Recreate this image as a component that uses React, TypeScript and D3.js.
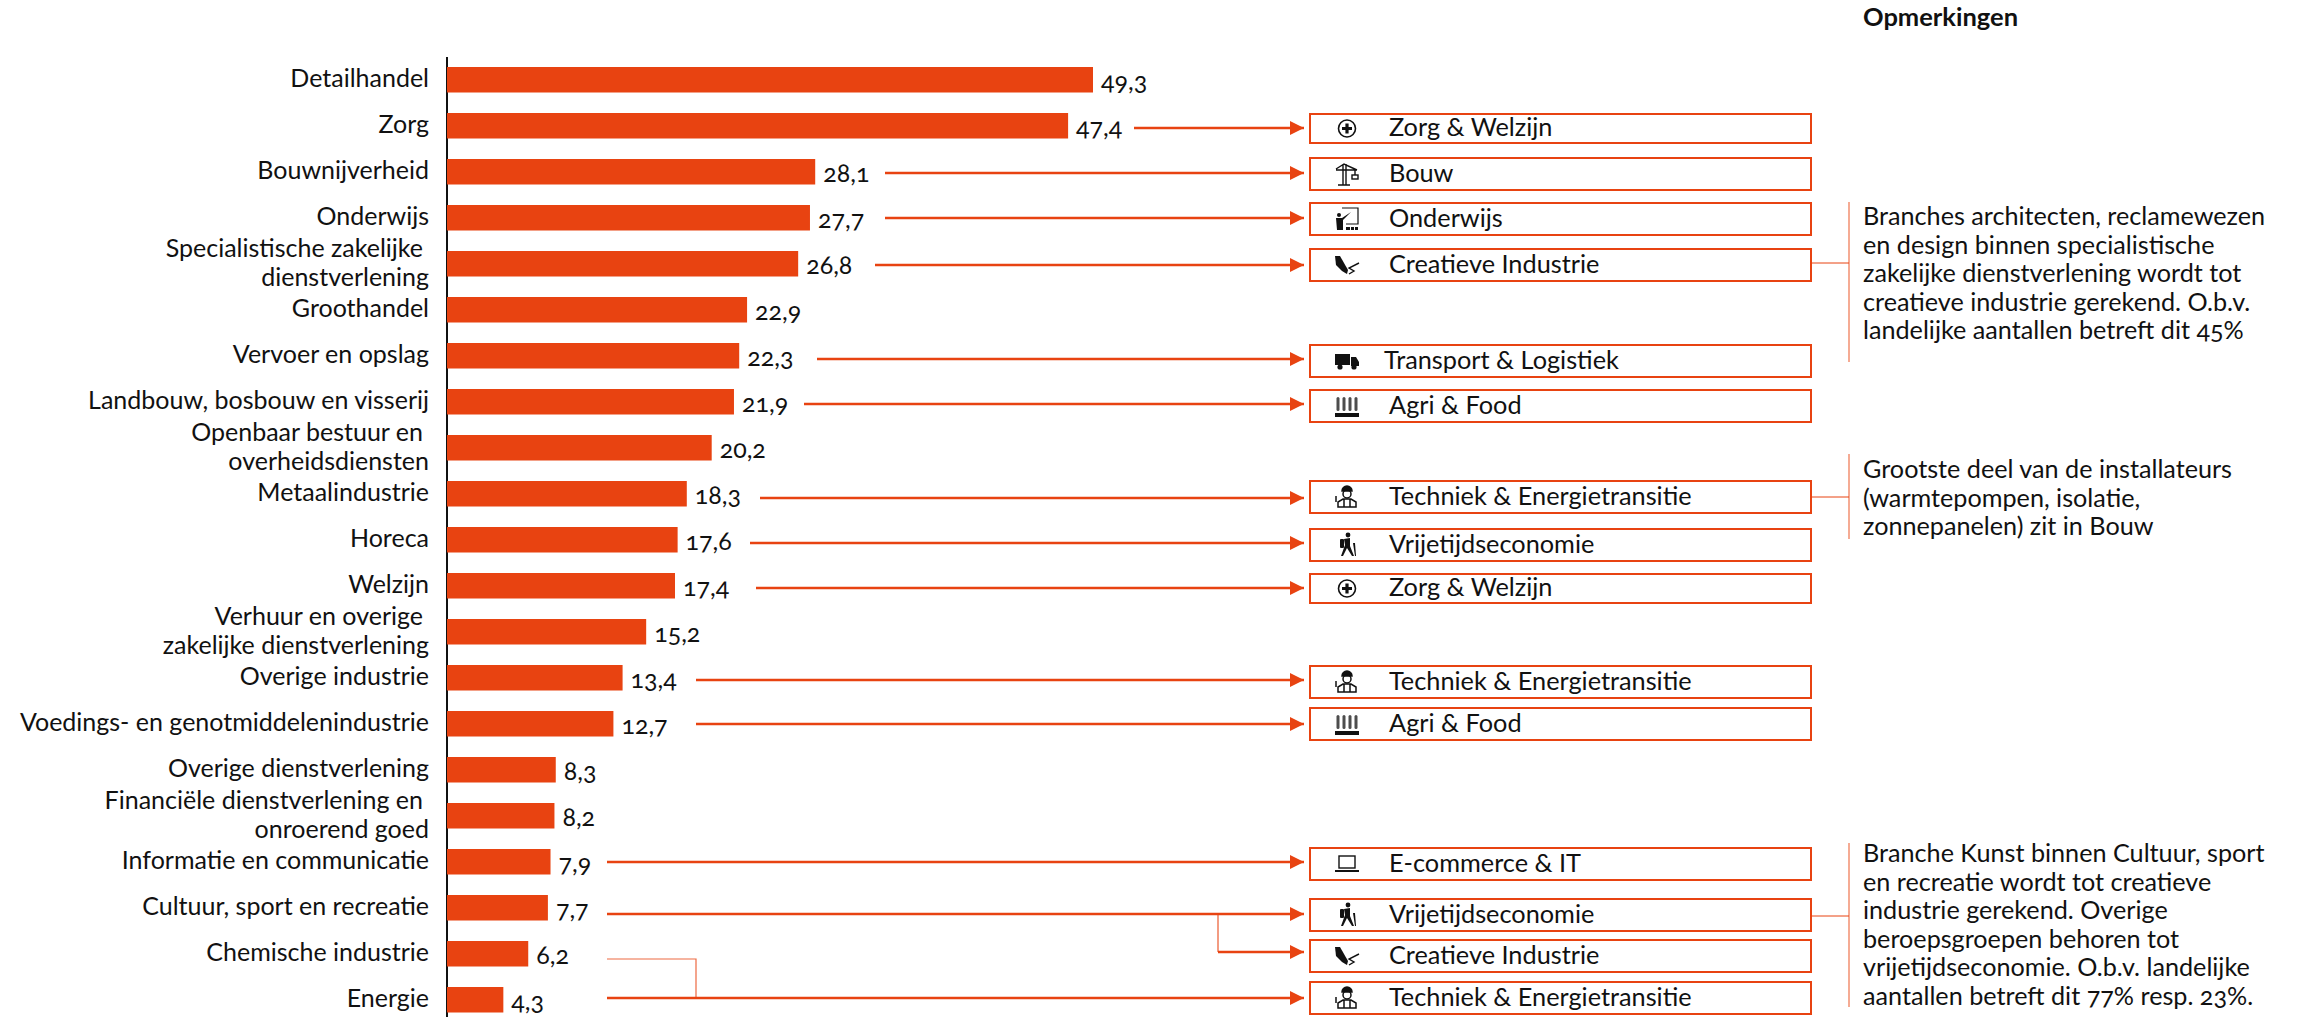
import React from "react";
import * as d3 from "d3";

const categories = ["Detailhandel","Zorg","Bouwnijverheid","Onderwijs","Specialistische zakelijke |dienstverlening","Groothandel","Vervoer en opslag","Landbouw, bosbouw en visserij","Openbaar bestuur en |overheidsdiensten","Metaalindustrie","Horeca","Welzijn","Verhuur en overige |zakelijke dienstverlening","Overige industrie","Voedings- en genotmiddelenindustrie","Overige dienstverlening","Financiële dienstverlening en |onroerend goed","Informatie en communicatie","Cultuur, sport en recreatie","Chemische industrie","Energie"];
const values = [49.3,47.4,28.1,27.7,26.8,22.9,22.3,21.9,20.2,18.3,17.6,17.4,15.2,13.4,12.7,8.3,8.2,7.9,7.7,6.2,4.3];
const boxLabels = ["Zorg & Welzijn","Bouw","Onderwijs","Creatieve Industrie","Transport & Logistiek","Agri & Food","Techniek & Energietransitie","Vrijetijdseconomie","Zorg & Welzijn","Techniek & Energietransitie","Agri & Food","E-commerce & IT","Vrijetijdseconomie","Creatieve Industrie","Techniek & Energietransitie"];
const boxTops = [114,158,203,249,345,390,481,529,574,666,708,848,899,940,982];
const boxHeights = [29,32,32,32,32,32,32,32,29,32,32,32,32,32,32];
const boxIcons = ["cross","crane","teach","pen","truck","wheat","worker","hiker","cross","worker","wheat","laptop","hiker","pen","worker"];
const arrowStarts = [1134,885,885,875,817,804,760,750,756,696,696,607,607,1218,607];
const arrowYs = [128,173,218,265,359,404,498,543,588,680,724,862,914,952,998];
const notes = [
  ["Branches architecten, reclamewezen","en design binnen specialistische","zakelijke dienstverlening wordt tot","creatieve industrie gerekend. O.b.v.","landelijke aantallen betreft dit 45%"],
  ["Grootste deel van de installateurs","(warmtepompen, isolatie,","zonnepanelen) zit in Bouw"],
  ["Branche Kunst binnen Cultuur, sport","en recreatie wordt tot creatieve","industrie gerekend. Overige","beroepsgroepen behoren tot","vrijetijdseconomie. O.b.v. landelijke","aantallen betreft dit 77% resp. 23%."],
];
const noteBaselines = [225,478,862];
const noteBars = [[202,362,263],[454,539,497],[843,1007,916]];

const ORANGE = "#e84311";
const FONT = "Lato, 'Open Sans', sans-serif";
const x = d3.scaleLinear().domain([0, 49.3]).range([447, 1093]);
const y = d3.scaleBand().domain(categories).range([67, 67 + 46 * 20 + 25.5]).paddingInner(1 - 25.5 / 46).paddingOuter(0).align(0);

function Icon({ kind, cx, cy }: { kind: string; cx: number; cy: number }) {
  const k = "#111";
  let g: React.ReactNode = null;
  if (kind === "cross") g = <g><circle r={8.5} fill="none" stroke={k} strokeWidth={1.6} /><path d="M-5 0H5M0-5V5" stroke={k} strokeWidth={3.2} /></g>;
  if (kind === "crane") g = <g fill="none" stroke={k} strokeWidth={1.4}><path d="M-9 11H3M-4 11V-10M-1 11V-10M-11-5L-3-10 10-4M-11-4H10" /><rect x={5} y={1} width={6} height={4} /><path d="M8 -4V1" /></g>;
  if (kind === "teach") g = <g><path d="M-5-11H11V5H-1" fill="none" stroke={k} strokeWidth={1.2} /><circle cx={-8} cy={-4} r={2} fill={k} /><path d="M-11-1H-5L4-7-4 1V11H-10Z" fill={k} /><path d="M-1 11V8H3V11ZM4 11V8H7V11ZM8 11V8H11V11Z" fill={k} /></g>;
  if (kind === "pen") g = <g><path d="M-12-9L-7-9 1 5 0 9-5 6-11 0Z" fill={k} /><path d="M2 9L7 6 2 3 12-2" fill="none" stroke={k} strokeWidth={1.4} /></g>;
  if (kind === "truck") g = <g fill={k}><rect x={-12} y={-7} width={15} height={11} /><path d="M4-4H9L12 1V5H4Z" /><circle cx={-7} cy={6} r={2.6} /><circle cx={7} cy={6} r={2.6} /></g>;
  if (kind === "wheat") g = <g fill={k}><rect x={-12} y={7} width={24} height={4} />{[-9,-3,3,9].map((d) => <rect key={d} x={d - 1.5} y={-9} width={3} height={14} rx={1.5} fillOpacity={0.75} />)}</g>;
  if (kind === "worker") g = <g fill="none" stroke={k} strokeWidth={1.5}><path d="M-5-6A5 5 0 0 1 5-6Z" fill={k} /><circle cy={-3} r={4} /><path d="M-9 10V5L-4 2H4L9 5V10H-9ZM-3 2V10M3 2V10" /><path d="M-11-1V5" /></g>;
  if (kind === "hiker") g = <g fill={k}><circle cx={1} cy={-10} r={2.4} /><path d="M-3-6L3-7 3 1 7 11H5L0 3-4 11H-6L-2 0Z" /><rect x={-7} y={-6} width={4} height={9} rx={1} /><path d="M6-2L8-2 9 11H8Z" /></g>;
  if (kind === "laptop") g = <g fill="none" stroke={k} strokeWidth={1.4}><rect x={-8} y={-8} width={16} height={12} /><path d="M-12 7H12" strokeWidth={2} /></g>;
  return <g transform={`translate(${cx},${cy})`}>{g}</g>;
}

export default function App() {
  const onum = { fontFeatureSettings: "'onum' 1", fontVariantNumeric: "oldstyle-nums" } as React.CSSProperties;
  return (
    <svg width={2297} height={1017} style={{ position: "absolute", left: 0, top: 0, background: "#fff" }} fontFamily={FONT}>
      <defs>
        <marker id="ah" markerUnits="userSpaceOnUse" markerWidth={16} markerHeight={16} refX={14} refY={7} orient="auto">
          <path d="M0 0L14 7 0 14Z" fill={ORANGE} />
        </marker>
      </defs>
      <line x1={447} x2={447} y1={57} y2={1017} stroke="#111" strokeWidth={2} />
      {categories.map((c, i) => {
        const by = y(c)!;
        const lines = c.split("|");
        return (
          <g key={c}>
            <rect x={x(0)} y={by} width={x(values[i]) - x(0)} height={y.bandwidth()} fill={ORANGE} />
            <text x={x(values[i]) + 8} y={by + 23} fontSize={25} fill="#111" style={onum}>{String(values[i]).replace(".", ",")}</text>
            {lines.length === 1
              ? <text x={429} y={by + 20} fontSize={25} textAnchor="end" fill="#111">{c}</text>
              : lines.map((l, j) => <text key={l} x={j === 0 ? 423 : 429} y={by + 6 + j * 29} fontSize={25} textAnchor="end" fill="#111">{l.trim()}</text>)}
          </g>
        );
      })}
      {boxLabels.map((l, i) => (
        <g key={i}>
          <rect x={1310} y={boxTops[i]} width={501} height={boxHeights[i]} fill="#fff" stroke={ORANGE} strokeWidth={2} />
          <Icon kind={boxIcons[i]} cx={1347} cy={boxTops[i] + boxHeights[i] / 2} />
          <text x={l.startsWith("Transport") ? 1384 : 1389} y={boxTops[i] + (boxHeights[i] === 29 ? 22 : 23.5)} fontSize={25.3} fill="#111">{l}</text>
          <line x1={arrowStarts[i]} x2={1304} y1={arrowYs[i]} y2={arrowYs[i]} stroke={ORANGE} strokeWidth={2.5} markerEnd="url(#ah)" />
        </g>
      ))}
      <path d="M1218 914V952" stroke={ORANGE} strokeOpacity={0.7} fill="none" strokeWidth={1.5} />
      <path d="M607 959H696V998" stroke={ORANGE} strokeOpacity={0.8} fill="none" strokeWidth={1.2} />
      {noteBars.map(([a, b, h], i) => (
        <g key={i} stroke={ORANGE}>
          <line x1={1849} x2={1849} y1={a} y2={b} strokeOpacity={0.6} strokeWidth={1.5} />
          <line x1={1811} x2={1849} y1={h} y2={h} strokeWidth={1} />
        </g>
      ))}
      {notes.map((ls, i) => ls.map((l, j) => (
        <text key={l} x={1863} y={noteBaselines[i] + j * 28.6} fontSize={25.2} fill="#111" style={onum}>{l}</text>
      )))}
      <text x={1863} y={26} fontSize={25.5} fontWeight={700} fill="#111">Opmerkingen</text>
    </svg>
  );
}
